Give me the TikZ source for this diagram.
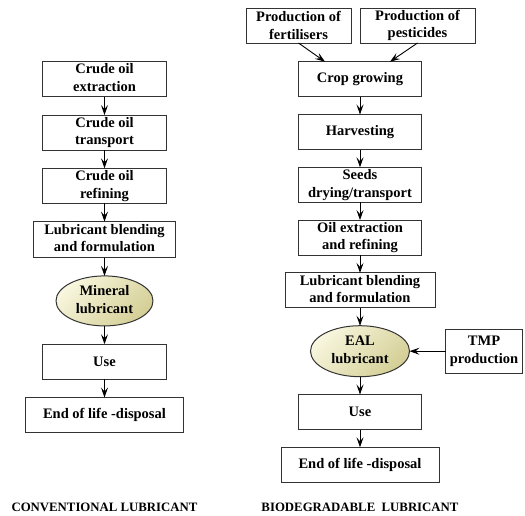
\documentclass[tikz,border=0pt]{standalone}
\usepackage{fontspec}
\setmainfont{Liberation Serif}
\usetikzlibrary{matrix,positioning,shapes.geometric,arrows.meta}

\definecolor{lubelight}{RGB}{248,246,222}
\definecolor{lubedark}{RGB}{212,207,150}
\newcommand{\twolines}[2]{\begin{tabular}{@{}c@{}}#1\\#2\end{tabular}}

\begin{document}
\begin{tikzpicture}[x=1pt,y=-1pt,
stepbox/.style={rectangle,draw=black!80,line width=1pt,minimum width=123pt,minimum height=35pt,inner xsep=2pt,inner ysep=0pt,outer sep=0pt,align=center,font=\bfseries\fontsize{14.5}{17.5}\selectfont},
lube/.style={ellipse,top color=lubelight,bottom color=lubedark,shading angle=45},
caption/.style={font=\bfseries\fontsize{12.8}{15}\selectfont,inner sep=2pt}]

\tikzset{flowarrow/.style={-{Stealth[length=10pt,width=7pt,inset=4pt]}, line width=0.9pt}}

\useasboundingbox (0,0) rectangle (525,515);

% conventional lubricant
\matrix (lconv) [matrix of nodes,%
   row sep=17.3pt,%
   inner sep=0pt, anchor=north,
   nodes={stepbox}] at (104.5,61) {
 \twolines{Crude oil}{extraction}\\
 \twolines{Crude oil}{transport}\\
 \twolines{Crude oil}{refining}\\
 |[minimum width=141pt,minimum height=36pt]| \twolines{Lubricant blending}{and formulation}\\
 |[lube,minimum width=97pt,minimum height=50pt]| \twolines{Mineral}{lubricant}\\
 Use\\
 |[minimum width=158pt]| End of life -disposal\\
};

% biodegradable lubricant
\matrix (lbio) [matrix of nodes,%
   row sep=16.8pt,%
   inner sep=0pt, anchor=north,
   nodes={stepbox}] at (360,61) {
 Crop growing\\
 Harvesting\\
 \twolines{Seeds}{drying/transport}\\
 \twolines{Oil extraction}{and refining}\\
 |[minimum width=150pt]| \twolines{Lubricant blending}{and formulation}\\
 |[lube,minimum width=99pt,minimum height=51pt]| \twolines{EAL}{lubricant}\\
 Use\\
 |[minimum width=158pt]| End of life -disposal\\
};

\node[stepbox, minimum width=105pt] (fert) at (298.5,25.5) {Production of\\fertilisers};
\node[stepbox, minimum width=115pt] (pest) at (417.5,25.5) {Production of\\pesticides};
\node[stepbox, minimum width=77pt, minimum height=44pt, right=36pt of lbio-6-1] (tmp) {TMP\\production};

\node[caption, below=19pt of lbio-8-1] (biocap) {BIODEGRADABLE~~LUBRICANT};
\node[caption] (convcap) at (lconv-7-1 |- biocap) {CONVENTIONAL LUBRICANT};

\draw[flowarrow] (lconv-1-1) -- (lconv-2-1);
\draw[flowarrow] (lconv-2-1) -- (lconv-3-1);
\draw[flowarrow] (lconv-3-1) -- (lconv-4-1);
\draw[flowarrow] (lconv-4-1) -- (lconv-5-1);
\draw[flowarrow] (lconv-5-1) -- (lconv-6-1);
\draw[flowarrow] (lconv-6-1) -- (lconv-7-1);

\draw[flowarrow] (fert.south) -- ([xshift=-35pt]lbio-1-1.north);
\draw[flowarrow] (pest.south) -- ([xshift=30pt]lbio-1-1.north);
\draw[flowarrow] (lbio-1-1) -- (lbio-2-1);
\draw[flowarrow] (lbio-2-1) -- (lbio-3-1);
\draw[flowarrow] (lbio-3-1) -- (lbio-4-1);
\draw[flowarrow] (lbio-4-1) -- (lbio-5-1);
\draw[flowarrow] (lbio-5-1) -- (lbio-6-1);
\draw[flowarrow] (lbio-6-1) -- (lbio-7-1);
\draw[flowarrow] (lbio-7-1) -- (lbio-8-1);
\draw[flowarrow] (tmp) -- (lbio-6-1);

\end{tikzpicture}
\end{document}
